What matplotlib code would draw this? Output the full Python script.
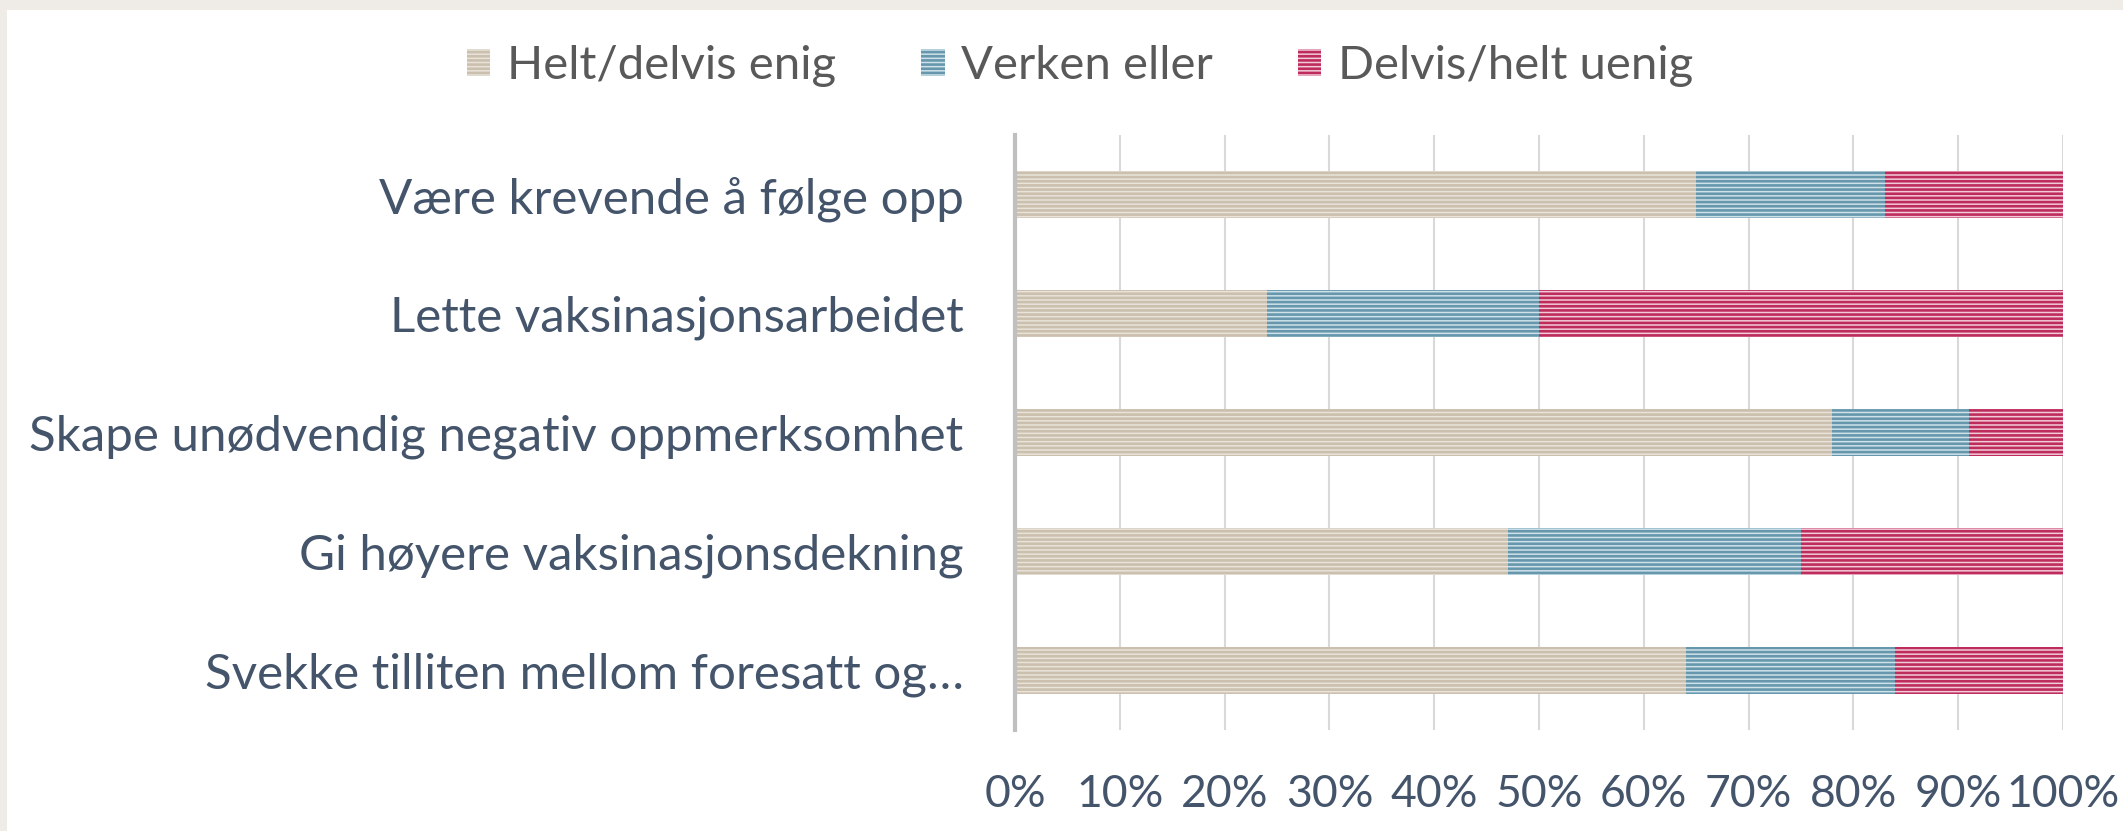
"""
Stacked horizontal bar chart: attitudes (Norwegian survey), shares per statement.
Saves out.png.
"""

import numpy as np
import matplotlib.pyplot as plt
from matplotlib.patches import Rectangle


categories = [
    "Være krevende å følge opp",
    "Lette vaksinasjonsarbeidet",
    "Skape unødvendig negativ oppmerksomhet",
    "Gi høyere vaksinasjonsdekning",
    "Svekke tilliten mellom foresatt og…",
]
series_names = ["Helt/delvis enig", "Verken eller", "Delvis/helt uenig"]
enig = [65, 24, 78, 47, 64]
verken = [18, 26, 13, 28, 20]
uenig = [17, 50, 9, 25, 16]
xtick_values = [0, 10, 20, 30, 40, 50, 60, 70, 80, 90, 100]

FACE = ["#E9E3DA", "#CFE2EA", "#F2CBD8"]
STRIPE = ["#CBBFAE", "#6697AC", "#BE2C5C"]
LABEL_COLOR = "#44546A"
LEGEND_COLOR = "#595959"
FONT = ["Lato", "DejaVu Sans"]

plt.rcParams["font.family"] = FONT
plt.rcParams["hatch.linewidth"] = 1.9

W, H = 2123, 831
fig = plt.figure(figsize=(W / 100, H / 100), dpi=100)
fig.patch.set_facecolor("#EFEBE6")
# white canvas inside the beige frame (top + left border only)
fig.patches.append(Rectangle((7 / W, 0), 1, 1 - 10 / H, transform=fig.transFigure,
                             facecolor="white", edgecolor="none", zorder=-5))

ax = fig.add_axes([1015 / W, 1 - 730 / H, (2063 - 1015) / W, (730 - 135) / H])
ax.set_zorder(2)
ax.set_facecolor("none")

y = np.arange(len(categories))
left = np.zeros(len(categories))
for name, vals, fc, sc in zip(series_names, [enig, verken, uenig], FACE, STRIPE):
    ax.barh(y, vals, left=left, height=0.40, color=fc, edgecolor=sc,
            linewidth=0, hatch="----", label=name, zorder=3)
    left += np.array(vals)

ax.set_xlim(0, 100)
ax.set_ylim(-0.5, len(categories) - 0.5)
ax.invert_yaxis()
ax.set_yticks(y)
ax.set_yticklabels(categories)
ax.set_xticks(xtick_values)
ax.set_xticklabels([f"{v}%" for v in xtick_values])

ax.tick_params(axis="y", length=0, pad=37, labelsize=35.5, labelcolor=LABEL_COLOR)
ax.tick_params(axis="x", length=0, pad=32, labelsize=32, labelcolor=LABEL_COLOR)

ax.grid(axis="x", color="#D9D9D9", linewidth=1.5, zorder=0)
for side in ["top", "right", "bottom"]:
    ax.spines[side].set_visible(False)
ax.spines["left"].set_color("#BFBFBF")
ax.spines["left"].set_linewidth(3)
ax.spines["left"].set_zorder(4)

leg = fig.legend(loc="center", bbox_to_anchor=(1080 / W, 1 - 66 / H), ncol=3,
                 frameon=False, fontsize=34, handlelength=0.5, handleheight=0.5,
                 handletextpad=0.35, columnspacing=1.8)
for t in leg.get_texts():
    t.set_color(LEGEND_COLOR)

fig.savefig("out.png", dpi=100, facecolor=fig.get_facecolor())
